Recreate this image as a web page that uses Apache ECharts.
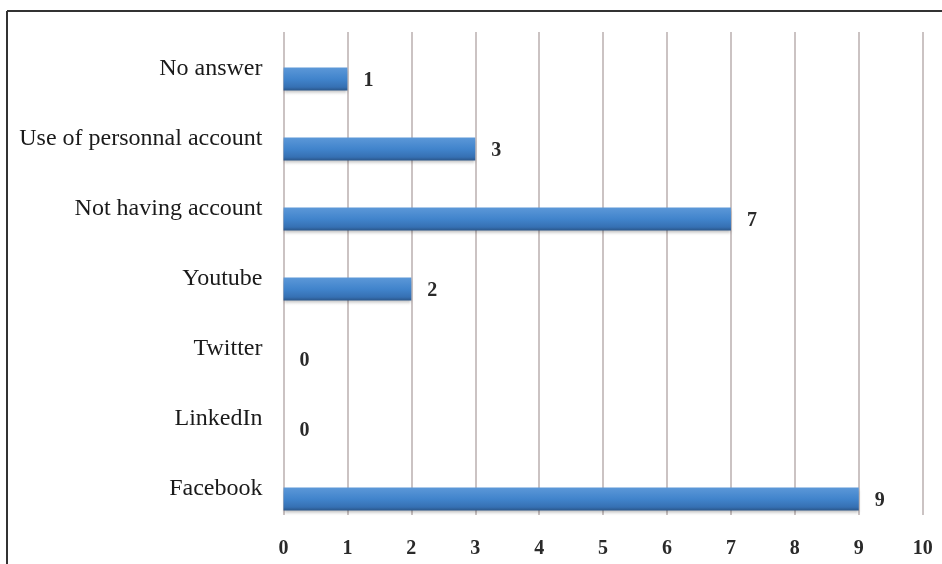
<!DOCTYPE html>
<html>
<head>
<meta charset="utf-8">
<script src="https://cdn.jsdelivr.net/npm/echarts@6/dist/echarts.min.js"></script>
<style>html,body{margin:0;padding:0;background:#fff}#c{width:942px;height:564px}</style>
</head>
<body>
<div id="c"></div>
<script>
const categories = ['Facebook', 'LinkedIn', 'Twitter', 'Youtube', 'Not having account', 'Use of personnal account', 'No answer'];
const values = [9, 0, 0, 2, 7, 3, 1];
const tickMin = 0, tickMax = 10, tickStep = 1;

const chart = echarts.init(document.getElementById('c'));
const serif = 'Liberation Serif, Times New Roman, serif';
chart.setOption({
  backgroundColor: '#fff',
  animation: false,
  graphic: [
    { type: 'line', shape: { x1: 7, y1: 11, x2: 942, y2: 11 }, style: { stroke: '#333', lineWidth: 2 }, silent: true },
    { type: 'line', shape: { x1: 7, y1: 11, x2: 7, y2: 564 }, style: { stroke: '#333', lineWidth: 2 }, silent: true }
  ],
  grid: [
    { left: 283.5, right: 19.3, top: 44, bottom: 30 },
    { left: 283.5, right: 19.3, top: 32, bottom: 49 }
  ],
  xAxis: [
    { gridIndex: 0, type: 'value', min: tickMin, max: tickMax, interval: tickStep, show: false },
    { gridIndex: 1, type: 'value', min: tickMin, max: tickMax, interval: tickStep,
      axisLine: { show: false }, axisTick: { show: false },
      splitLine: { show: true, lineStyle: { color: '#cbc3c3', width: 2 } },
      axisLabel: { margin: 24, fontFamily: serif, fontSize: 20, fontWeight: 'bold', color: '#2a2a2a' } }
  ],
  yAxis: [
    { gridIndex: 0, type: 'category', data: categories,
      axisLine: { show: false }, axisTick: { show: false }, splitLine: { show: false },
      axisLabel: { margin: 21, fontFamily: serif, fontSize: 24, lineHeight: 20, color: '#1a1a1a', verticalAlign: 'bottom' } },
    { gridIndex: 1, type: 'value', show: false }
  ],
  series: [{
    type: 'bar', xAxisIndex: 0, yAxisIndex: 0, data: values, barWidth: 23,
    itemStyle: {
      color: new echarts.graphic.LinearGradient(0, 0, 0, 1, [
        { offset: 0, color: '#5c98d8' },
        { offset: 0.5, color: '#4184cc' },
        { offset: 0.85, color: '#3670b3' },
        { offset: 1, color: '#2a568a' }
      ]),
      shadowColor: 'rgba(0,0,0,0.25)', shadowBlur: 3, shadowOffsetY: 2
    },
    label: { show: true, position: 'right', distance: 16, fontFamily: serif, fontSize: 20, fontWeight: 'bold', color: '#2a2a2a', offset: [0, 2] }
  }]
});
</script>
</body>
</html>
